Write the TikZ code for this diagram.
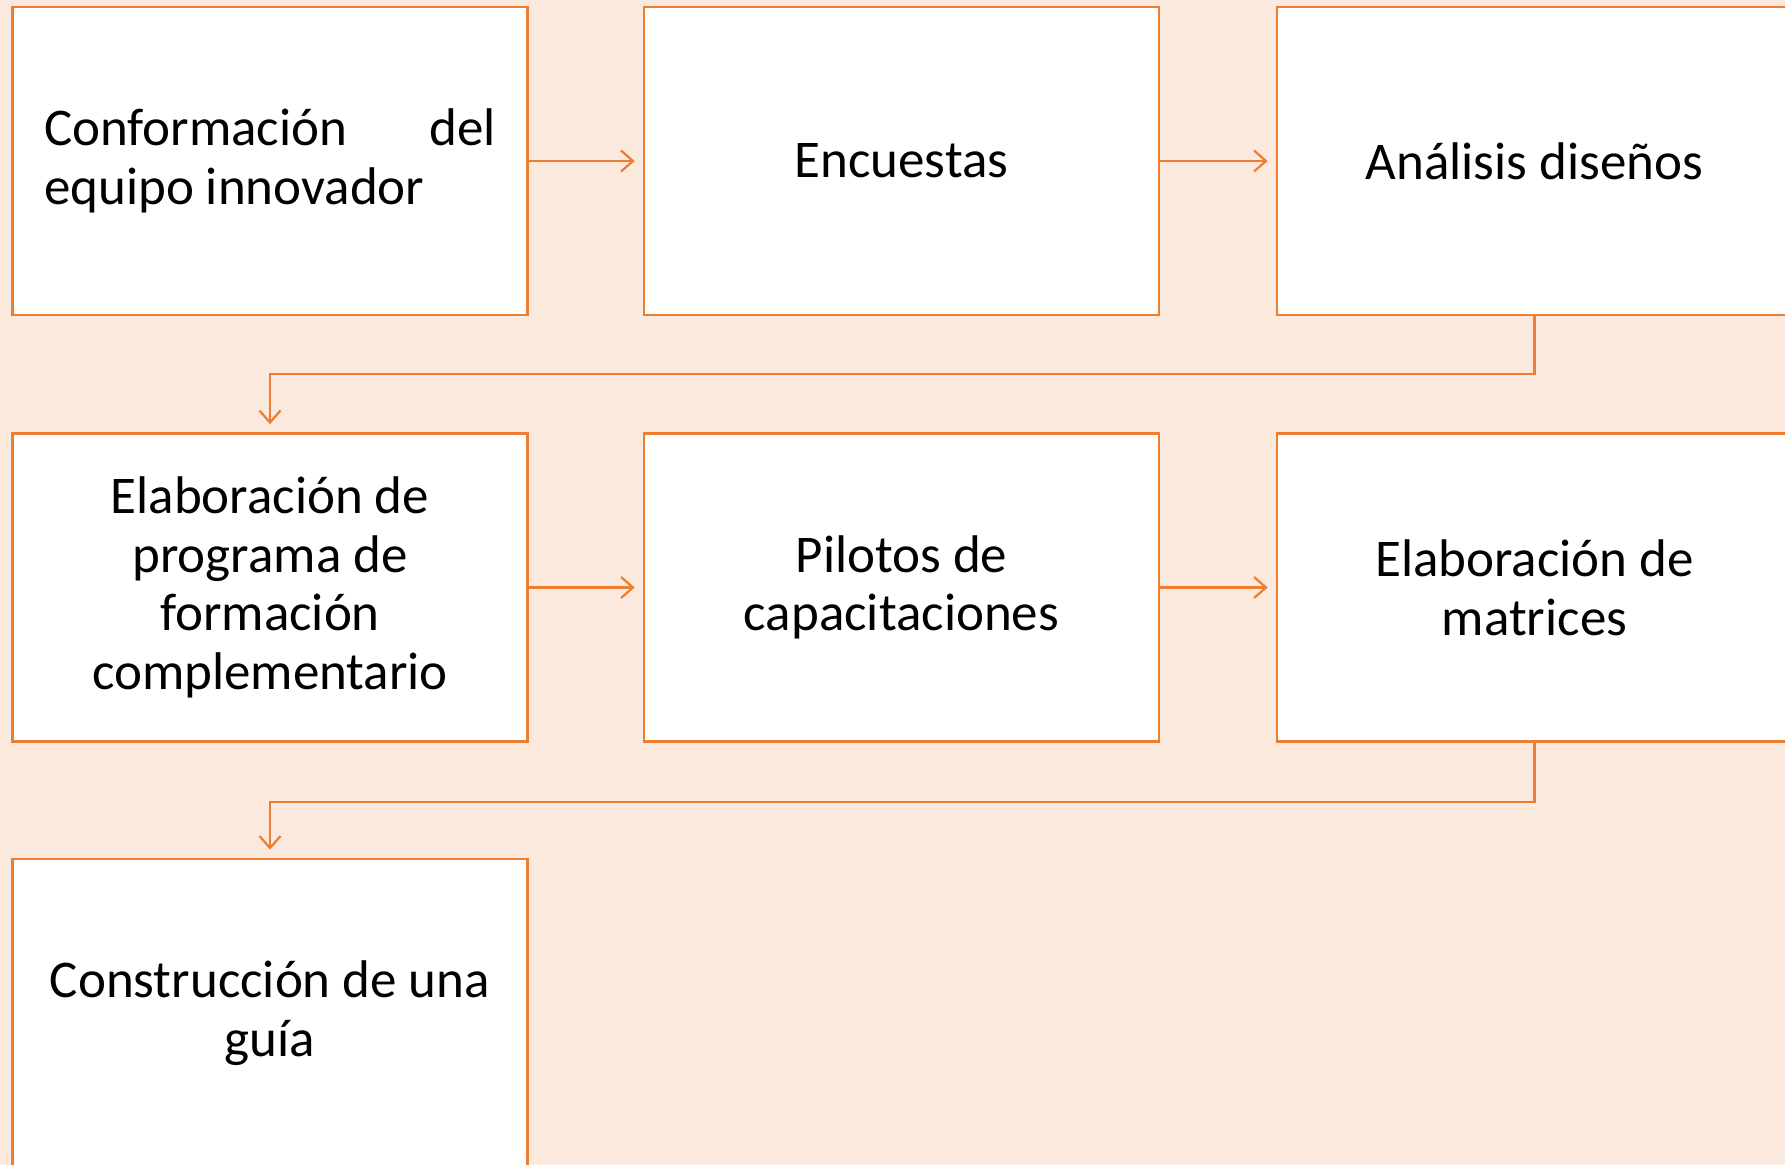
\documentclass[tikz,border=0pt]{standalone}
\usepackage{fontspec}
\setmainfont{Carlito}
\usetikzlibrary{arrows.meta}
\definecolor{bgc}{HTML}{FBE9DD}
\definecolor{org}{HTML}{ED7D31}
\begin{document}
\begin{tikzpicture}[x=0.5pt,y=-0.5pt,
  box/.style={draw=org, fill=white, line width=1.3pt, minimum width=257.5pt,
    minimum height=154pt, inner sep=0pt, align=center,
    font=\fontsize{26.5}{29.3}\selectfont},
  conn/.style={draw=org, line width=1.1pt,
    -{Straight Barb[length=6pt,width=10.5pt,line width=1.1pt]}, shorten >=4pt}]
\fill[bgc] (0,0) rectangle (1785,1165);
\useasboundingbox (0,0) rectangle (1785,1165);
\node[box, align=left] (b1) at (270,161) {\makebox[226pt][s]{Conformación\hfill del}\\\makebox[226pt][l]{equipo innovador}};
\node[box] (b2) at (901.5,161) {Encuestas};
\node[box] (b3) at (1534.5,161) {Análisis diseños};
\node[box] (b4) at (270,587.5) {Elaboración de\\programa de\\formación\\complementario};
\node[box] (b5) at (901.5,587.5) {Pilotos de\\capacitaciones};
\node[box] (b6) at (1534.5,587.5) {Elaboración de\\matrices};
\node[box] (b7) at (270,1013) {Construcción de una\\guía};
\draw[conn] (b1.east) -- (b2.west);
\draw[conn] (b2.east) -- (b3.west);
\draw[conn] (b3.south) -- ++(0,58) -| (b4.north);
\draw[conn] (b4.east) -- (b5.west);
\draw[conn] (b5.east) -- (b6.west);
\draw[conn] (b6.south) -- ++(0,59) -| (b7.north);
\end{tikzpicture}
\end{document}
